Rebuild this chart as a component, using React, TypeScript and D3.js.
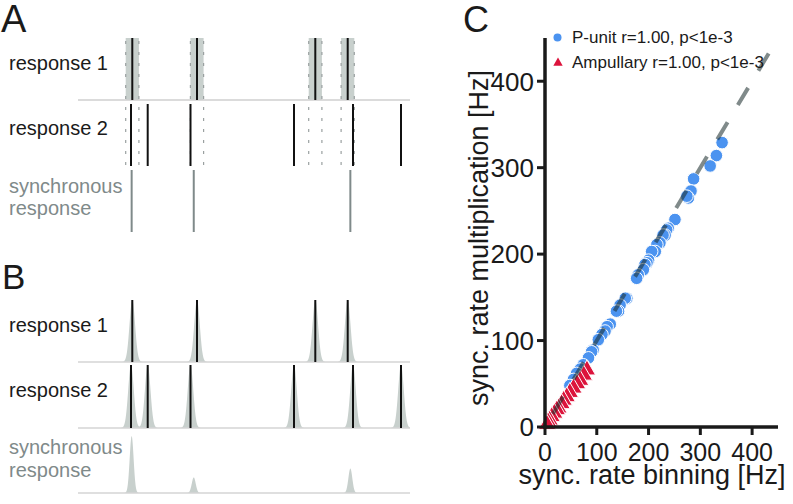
import React from 'react';
import * as d3 from 'd3';

// ---------- data ----------
// spike times (ms) of the two schematic responses
const RESP1 = [54.3, 119, 237.3, 269.7];
const RESP2 = [53, 69.7, 112.5, 216, 275, 323];
const WINDOW = 6.6; // coincidence half-window (ms)
const SIGMA = 2.8; // kernel width (ms)
const T_MAX = 332;

// panel C scatter (Hz)
const PUNIT_X = [342, 331, 319, 287, 282, 277, 274, 251, 238, 235, 232, 228, 222, 216, 213, 206, 200, 197, 193, 190, 180, 177, 158, 155, 145, 142, 138, 126, 120, 116, 110, 103, 93, 90, 84, 74, 68, 61, 55, 48];
const PUNIT_Y = [329, 314, 302, 287, 273, 265, 267, 240, 230, 228, 222, 222, 213, 211, 203, 203, 193, 190, 188, 182, 176, 172, 149, 149, 141, 134, 134, 119, 116, 111, 107, 101, 89, 87, 80, 72, 67, 62, 55, 48];
const AMP_X = [81, 75, 68, 62, 55, 48, 42, 36, 32, 26, 23, 18, 13, 9, 6, 4];
const AMP_Y = [66, 60, 54, 50, 45, 40, 35, 31, 27, 22, 20, 16, 12, 8, 6, 3];
const X_TICKS = [0, 100, 200, 300, 400];
const Y_TICKS = [0, 100, 200, 300, 400];
const LEGEND_LABELS = ['P-unit r=1.00, p<1e-3', 'Ampullary r=1.00, p<1e-3'];
const DIAG_END = 432;

const FONT = 'Liberation Sans, Arial, Helvetica, sans-serif';
const BAND = '#c8d0cd';
const SYNC_GRAY = '#7f8a8a';
const BLUE = '#4b93f0';
const RED = '#dc143c';

function kernel(t: number, s: number) {
  return Math.exp(-((t - s) * (t - s)) / (2 * SIGMA * SIGMA));
}
function sumKernel(t: number, spikes: number[]) {
  return d3.sum(spikes, (s) => kernel(t, s));
}

export default function App() {
  const tx = d3.scaleLinear().domain([0, T_MAX]).range([78, 410]);

  // synchronous events (binning): midpoint of pairs within the window
  const windows = RESP1.map((s) => [s - WINDOW, s + WINDOW]);
  const syncEvents: number[] = [];
  RESP1.forEach((s) => {
    const m = RESP2.find((r) => Math.abs(r - s) <= WINDOW);
    if (m !== undefined) syncEvents.push((s + m) / 2);
  });

  // panel A rows
  const A1 = [38, 100];
  const A2 = [104, 166];
  const A3 = [170, 232];

  // panel B rows (top, baseline)
  const B1 = [300, 362];
  const B2 = [365, 428];
  const B3 = [433, 493];

  const ts = d3.range(0, T_MAX + 0.001, 0.2);
  const areaFor = (f: (t: number) => number, top: number, base: number) =>
    d3
      .area<number>()
      .x((t) => tx(t))
      .y0(base)
      .y1((t) => base - f(t) * (base - top))(ts) || '';

  const b1Area = areaFor((t) => sumKernel(t, RESP1), B1[0], B1[1]);
  const b2Area = areaFor((t) => sumKernel(t, RESP2), B2[0], B2[1]);
  const b3Area = areaFor((t) => sumKernel(t, RESP1) * sumKernel(t, RESP2), B3[0], B3[1]);

  // panel C
  const sx = d3.scaleLinear().domain([0, 450]).range([545, 778]);
  const sy = d3.scaleLinear().domain([0, 450]).range([427, 38]);
  const punits = PUNIT_X.map((x, i) => ({ x, y: PUNIT_Y[i] }));
  const amps = AMP_X.map((x, i) => ({ x, y: AMP_Y[i] }));
  const tri = d3.symbol(d3.symbolTriangle, 130)() || '';
  const triSmall = d3.symbol(d3.symbolTriangle, 38)() || '';
  const diag = d3
    .line<number>()
    .x((v) => sx(v))
    .y((v) => sy(v))([DIAG_END, 0]) || '';

  const label = (x: number, y: number, text: string, color: string) => (
    <text x={x} y={y} fontSize={20} fill={color} fontFamily={FONT}>
      {text}
    </text>
  );

  return (
    <svg
      width={793}
      height={504}
      style={{ position: 'absolute', left: 0, top: 0, background: '#fff' }}
      fontFamily={FONT}
    >
      <rect width={793} height={504} fill="#fff" />
      {/* panel letters */}
      <text x={1} y={32} fontSize={38} fill="#1a1a1a">A</text>
      <text x={2} y={289} fontSize={35} fill="#1a1a1a">B</text>
      <text x={463} y={32} fontSize={36} fill="#1a1a1a">C</text>

      {/* ---------- Panel A ---------- */}
      {label(9, 70, 'response 1', '#1a1a1a')}
      {label(9, 135, 'response 2', '#1a1a1a')}
      {label(9, 193, 'synchronous', SYNC_GRAY)}
      {label(9, 215, 'response', SYNC_GRAY)}

      {windows.map(([a, b], i) => (
        <rect key={'band' + i} x={tx(a)} y={A1[0]} width={tx(b) - tx(a)} height={A1[1] - A1[0]} fill={BAND} />
      ))}
      {windows.map(([a, b], i) => (
        <g key={'wd' + i} stroke="#9aa0a0" strokeWidth={1.2} strokeDasharray="3 8">
          <line x1={tx(a)} x2={tx(a)} y1={A1[0] + 3} y2={A1[1]} />
          <line x1={tx(b)} x2={tx(b)} y1={A1[0] + 3} y2={A1[1]} />
          <line x1={tx(a)} x2={tx(a)} y1={A2[0] + 3} y2={A2[1]} />
          <line x1={tx(b)} x2={tx(b)} y1={A2[0] + 3} y2={A2[1]} />
        </g>
      ))}
      <line x1={78} x2={410} y1={A1[1]} y2={A1[1]} stroke="#cfcfcf" strokeWidth={1.5} />
      {RESP1.map((s, i) => (
        <line key={'a1' + i} x1={tx(s)} x2={tx(s)} y1={A1[0]} y2={A1[1]} stroke="#111" strokeWidth={2} />
      ))}
      {RESP2.map((s, i) => (
        <line key={'a2' + i} x1={tx(s)} x2={tx(s)} y1={A2[0]} y2={A2[1]} stroke="#111" strokeWidth={2} />
      ))}
      {syncEvents.map((s, i) => (
        <line key={'a3' + i} x1={tx(s)} x2={tx(s)} y1={A3[0]} y2={A3[1]} stroke={SYNC_GRAY} strokeWidth={2} />
      ))}

      {/* ---------- Panel B ---------- */}
      {label(9, 332, 'response 1', '#1a1a1a')}
      {label(9, 397, 'response 2', '#1a1a1a')}
      {label(9, 454, 'synchronous', SYNC_GRAY)}
      {label(9, 477, 'response', SYNC_GRAY)}

      <path d={b1Area} fill={BAND} />
      <path d={b2Area} fill={BAND} />
      <path d={b3Area} fill={BAND} />
      <line x1={78} x2={410} y1={B1[1]} y2={B1[1]} stroke="#d4d4d4" strokeWidth={1.5} />
      <line x1={78} x2={410} y1={B2[1]} y2={B2[1]} stroke="#d4d4d4" strokeWidth={1.5} />
      <line x1={78} x2={410} y1={B3[1]} y2={B3[1]} stroke="#d4d4d4" strokeWidth={1.5} />
      {RESP1.map((s, i) => (
        <line key={'b1' + i} x1={tx(s)} x2={tx(s)} y1={B1[0]} y2={B1[1]} stroke="#111" strokeWidth={2} />
      ))}
      {RESP2.map((s, i) => (
        <line key={'b2' + i} x1={tx(s)} x2={tx(s)} y1={B2[0]} y2={B2[1]} stroke="#111" strokeWidth={2} />
      ))}

      {/* ---------- Panel C ---------- */}
      {punits.map((p, i) => (
        <circle key={'p' + i} cx={sx(p.x)} cy={sy(p.y)} r={6.3} fill={BLUE} stroke="#fff" strokeWidth={1} />
      ))}
      {amps.map((p, i) => (
        <path key={'m' + i} d={tri} transform={`translate(${sx(p.x)},${sy(p.y)})`} fill={RED} stroke="#fff" strokeWidth={1} />
      ))}
      <path d={diag} stroke="#172a2a" strokeOpacity={0.55} strokeWidth={4} strokeDasharray="20 20" fill="none" />

      {/* axes */}
      <line x1={545} x2={545} y1={38} y2={428.5} stroke="#1a1a1a" strokeWidth={3.5} />
      <line x1={543.5} x2={778} y1={427} y2={427} stroke="#1a1a1a" strokeWidth={3.5} />
      {Y_TICKS.map((v) => (
        <g key={'yt' + v}>
          <line x1={537} x2={545} y1={sy(v)} y2={sy(v)} stroke="#1a1a1a" strokeWidth={3} />
          <text x={534} y={sy(v)} dy="0.36em" textAnchor="end" fontSize={26} fill="#1a1a1a">{v}</text>
        </g>
      ))}
      {X_TICKS.map((v) => (
        <g key={'xt' + v}>
          <line x1={sx(v)} x2={sx(v)} y1={427} y2={435} stroke="#1a1a1a" strokeWidth={3} />
          <text x={sx(v)} y={461} textAnchor="middle" fontSize={25} fill="#1a1a1a">{v}</text>
        </g>
      ))}
      <text x={652} y={484} textAnchor="middle" fontSize={27} fill="#1a1a1a">sync. rate binning [Hz]</text>
      <text transform="translate(488,238) rotate(-90)" textAnchor="middle" fontSize={27} fill="#1a1a1a">
        sync. rate multiplication [Hz]
      </text>

      {/* legend */}
      <circle cx={557.5} cy={37.5} r={4} fill={BLUE} />
      <text x={572} y={43} fontSize={17} fill="#1a1a1a">{LEGEND_LABELS[0]}</text>
      <path d={triSmall} transform="translate(558,63)" fill={RED} />
      <text x={572} y={68} fontSize={17} fill="#1a1a1a">{LEGEND_LABELS[1]}</text>
    </svg>
  );
}
